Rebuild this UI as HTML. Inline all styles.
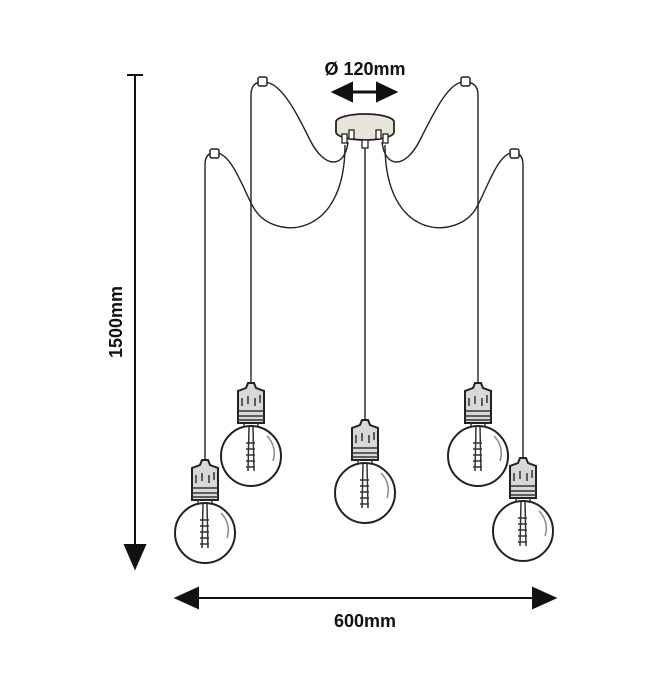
<!DOCTYPE html>
<html><head><style>body{margin:0;background:#fff}svg{display:block}</style></head><body>
<svg width="650" height="677" viewBox="0 0 650 677" xmlns="http://www.w3.org/2000/svg" font-family="Liberation Sans, sans-serif">
<defs>
<g id="bulb">
 <path d="M-3,-48 L3,-48 L5,-43 L13,-40 L13,-8 L-13,-8 L-13,-40 L-5,-43 Z" fill="#d8d8d8" stroke="#222" stroke-width="2"/>
 <path d="M-13,-20 H13 M-13,-15 H13 M-13,-11 H13 M-9,-33 v8 M-3,-35 v8 M4,-33 v8 M9,-36 v8" stroke="#333" stroke-width="1.5"/>
 <path d="M-7,-8 L-7,-2 M7,-8 L7,-2" stroke="#333" stroke-width="1.5"/>
 <circle cx="0" cy="25" r="30" fill="#fff" stroke="#222" stroke-width="2"/>
 <path d="M-2,-4 L-3,40 M2,-4 L3,40 M-5,12 h9 M-5,18 h9 M-5,24 h9 M-5,30 h9 M-5,36 h9" stroke="#333" stroke-width="1.5" fill="none"/>
 <path d="M16,5 A24,24 0 0 1 22,30" stroke="#888" stroke-width="1.5" fill="none"/>
</g>
</defs>
<g fill="none" stroke="#222" stroke-width="1.4">
 <path d="M262,82 Q251,82 251,95 L251,383"/>
 <path d="M465,82 Q478,82 478,95 L478,383"/>
 <path d="M214,153 Q205,153 205,165 L205,460"/>
 <path d="M514,153 Q523,153 523,165 L523,458"/>
 <path d="M365,145 L365,420"/>
 <path d="M262,82 C280,80 295,110 310,140 C325,170 345,168 348,142"/>
 <path d="M465,82 C450,80 435,110 420,140 C405,170 385,168 382,142"/>
 <path d="M214,153 C232,150 245,195 255,210 C275,240 345,240 345,145"/>
 <path d="M514,153 C498,150 485,195 475,210 C455,240 385,240 385,145"/>
</g>
<rect x="258" y="77" width="9" height="9" rx="2" fill="#fff" stroke="#222" stroke-width="1.5"/>
<rect x="461" y="77" width="9" height="9" rx="2" fill="#fff" stroke="#222" stroke-width="1.5"/>
<rect x="210" y="149" width="9" height="9" rx="2" fill="#fff" stroke="#222" stroke-width="1.5"/>
<rect x="510" y="149" width="9" height="9" rx="2" fill="#fff" stroke="#222" stroke-width="1.5"/>
<path d="M336,122 A29,8 0 0 1 394,122 L394,132 A29,8 0 0 1 336,132 Z" fill="#e8e4dc" stroke="#222" stroke-width="1.8"/>
<g fill="#fff" stroke="#222" stroke-width="1.3">
 <rect x="342" y="134" width="5" height="9"/><rect x="349" y="130" width="5" height="9"/>
 <rect x="362" y="140" width="6" height="8"/>
 <rect x="376" y="130" width="5" height="9"/><rect x="383" y="134" width="5" height="9"/>
</g>
<use href="#bulb" x="205" y="508"/>
<use href="#bulb" x="251" y="431"/>
<use href="#bulb" x="365" y="468"/>
<use href="#bulb" x="478" y="431"/>
<use href="#bulb" x="523" y="506"/>
<g stroke="#111" stroke-width="2" fill="#111">
 <path d="M127,75 H143 M135,75 V550" fill="none"/>
 <path d="M125,545 L145,545 L135,568 Z"/>
 <path d="M195,598 H535" fill="none"/>
 <path d="M176,598 L198,588 L198,608 Z"/>
 <path d="M555,598 L533,588 L533,608 Z"/>
 <path d="M350,92 H380" fill="none" stroke-width="3"/>
 <path d="M333,92 L352,83 L352,101 Z"/>
 <path d="M396,92 L377,83 L377,101 Z"/>
</g>
<text x="365" y="75" text-anchor="middle" font-size="18" font-weight="bold" fill="#111">Ø 120mm</text>
<text x="365" y="627" text-anchor="middle" font-size="18" font-weight="bold" fill="#111">600mm</text>
<text transform="translate(122,322) rotate(-90)" text-anchor="middle" font-size="18" font-weight="bold" fill="#111">1500mm</text>
</svg>
</body></html>
